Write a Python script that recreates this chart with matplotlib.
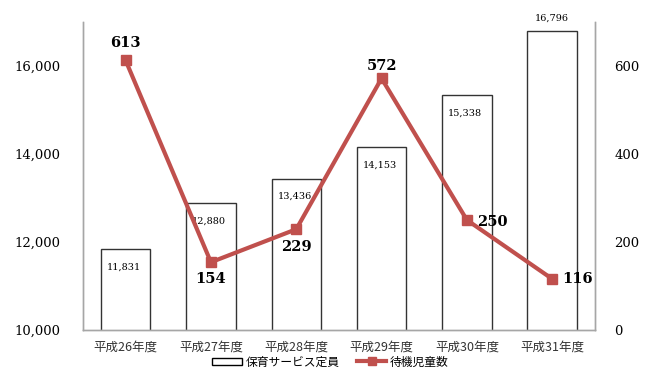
import numpy as np
import matplotlib.pyplot as plt
from matplotlib.patches import Patch
from matplotlib.lines import Line2D

years = ["平成26年度", "平成27年度", "平成28年度", "平成29年度", "平成30年度", "平成31年度"]
capacity = [11831, 12880, 13436, 14153, 15338, 16796]
waiting = [613, 154, 229, 572, 250, 116]

jp = ["Noto Sans CJK JP", "DejaVu Sans"]
serif = "DejaVu Serif"
red = "#C0504D"
grey = "#A6A6A6"

fig = plt.figure(figsize=(6.48, 3.81), dpi=100)
ax = fig.add_axes([0.128, 0.134, 0.79, 0.808])
ax2 = ax.twinx()

x = np.arange(len(years))
ax.bar(x, capacity, width=0.58, bottom=0, color="white", edgecolor="#333333", linewidth=1.0)
ax.set_ylim(10000, 17000)
ax.set_xlim(-0.5, len(years) - 0.5)
ax.set_yticks([10000, 12000, 14000, 16000])
ax.set_yticklabels([f"{v:,}" for v in [10000, 12000, 14000, 16000]], fontfamily=serif, fontsize=9.5)
ax.set_xticks(x)
ax.set_xticklabels(years, fontfamily=jp, fontsize=9, color="#333333")
ax.tick_params(length=0, pad=8)
ax.tick_params(axis="y", pad=16)

for i, v in enumerate(capacity):
    if i == len(capacity) - 1:
        ax.text(i, v + 180, f"{v:,}", ha="center", va="bottom", fontfamily=serif, fontsize=7)
    else:
        ax.text(i - 0.02, v - 400, f"{v:,}", ha="center", va="center", fontfamily=serif, fontsize=7)

ax2.plot(x, waiting, color=red, lw=3, marker="s", markersize=7, zorder=5)
ax2.set_ylim(0, 700)
ax2.set_yticks([0, 200, 400, 600])
ax2.set_yticklabels(["0", "200", "400", "600"], fontfamily=serif, fontsize=9.5)
ax2.tick_params(length=0, pad=14)

offsets = [(0, 40, "center"), (0, -38, "center"), (0, -40, "center"),
           (0, 28, "center"), (0.12, -5, "left"), (0.12, 0, "left")]
for i, v in enumerate(waiting):
    dx, dy, ha = offsets[i]
    ax2.text(i + dx, v + dy, str(v), ha=ha, va="center", fontfamily=serif,
             fontsize=10.5, fontweight="bold")

for a in (ax, ax2):
    a.spines["top"].set_visible(False)
    for s in ("left", "right", "bottom"):
        a.spines[s].set_color(grey)
        a.spines[s].set_linewidth(1.0)

handles = [Patch(facecolor="white", edgecolor="black", linewidth=1.0),
           Line2D([0], [0], color=red, lw=3, marker="s", markersize=6)]
fig.legend(handles, ["保育サービス定員", "待機児童数"], loc="center", bbox_to_anchor=(0.51, 0.05),
           ncol=2, frameon=False, prop={"family": jp, "size": 8.5}, handlelength=2.5,
           handleheight=0.6, columnspacing=1.5, handletextpad=0.3)

fig.savefig("out.png", dpi=100)
